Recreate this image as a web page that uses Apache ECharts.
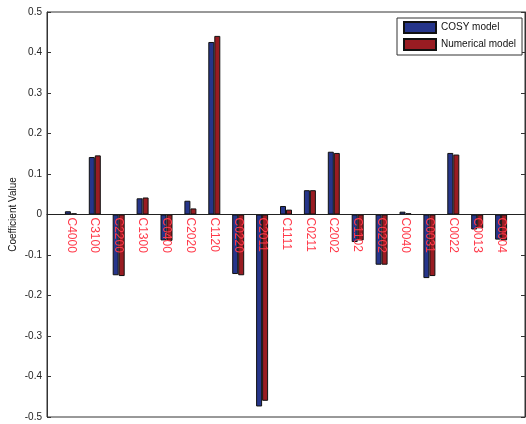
<!DOCTYPE html>
<html>
<head>
<meta charset="utf-8">
<script src="https://cdn.jsdelivr.net/npm/echarts@6/dist/echarts.min.js"></script>
<style>html,body{margin:0;padding:0;background:#fff}#c{width:526px;height:424px}</style>
</head>
<body>
<div id="c"></div>
<script>
var categories = ['C4000','C3100','C2200','C1300','C0400','C2020','C1120','C0220','C2011','C1111','C0211','C2002','C1102','C0202','C0040','C0031','C0022','C0013','C0004'];
var cosyValues = [0.008,0.142,-0.150,0.040,-0.064,0.034,0.426,-0.147,-0.474,0.021,0.060,0.155,-0.068,-0.124,0.007,-0.157,0.152,-0.037,-0.062];
var numericalValues = [0.003,0.146,-0.152,0.042,-0.065,0.015,0.441,-0.150,-0.460,0.012,0.060,0.152,-0.064,-0.124,0.003,-0.152,0.148,-0.034,-0.064];
var seriesNames = ['COSY model','Numerical model'];
var yTicks = { min: -0.5, max: 0.5, interval: 0.1 };

var FONT = 'Liberation Sans';
var W = 526, H = 424;
var G = { left: 47, right: 1, top: 12, bottom: 7 };
var gridH = H - G.top - G.bottom;
// shift the category axis up so it sits on the value-axis zero
var zeroOffset = -gridH * (0 - yTicks.min) / (yTicks.max - yTicks.min);

var axisCats = [''].concat(categories).concat(['']);
function pad(arr){ return [null].concat(arr).concat([null]); }

var chart = echarts.init(document.getElementById('c'), null, {renderer:'canvas'});
chart.setOption({
  animation: false,
  backgroundColor: '#ffffff',
  textStyle: { fontFamily: FONT },
  grid: { left: G.left, right: G.right, top: G.top, bottom: G.bottom, containLabel: false, outerBoundsMode: 'none', show: true, borderColor: '#333', borderWidth: 1, backgroundColor: 'transparent' },
  legend: {
    orient: 'vertical',
    left: 397, top: 18,
    padding: [3, 6, 4, 6],
    itemGap: 4,
    itemWidth: 32, itemHeight: 11,
    icon: 'rect',
    backgroundColor: '#fff',
    borderColor: '#333', borderWidth: 1, borderRadius: 0,
    textStyle: { fontFamily: FONT, fontSize: 10, color: '#111' },
    data: seriesNames
  },
  xAxis: {
    type: 'category',
    data: axisCats,
    boundaryGap: false,
    z: 10,
    offset: zeroOffset,
    axisLine: { onZero: false, lineStyle: { color: '#222', width: 1 } },
    axisTick: { show: false },
    splitLine: { show: false },
    axisLabel: { interval: 0, rotate: -90, margin: 3, color: '#ff3a4a', fontSize: 12, fontFamily: FONT }
  },
  yAxis: [{
    type: 'value',
    min: yTicks.min, max: yTicks.max, interval: yTicks.interval,
    name: 'Coefficient Value',
    nameLocation: 'middle',
    nameGap: 29,
    nameMoveOverlap: false,
    nameTextStyle: { fontFamily: FONT, fontSize: 10, color: '#111' },
    axisLine: { show: true, lineStyle: { color: '#333' } },
    axisTick: { show: true, inside: true, length: 4, lineStyle: { color: '#333' } },
    splitLine: { show: false },
    axisLabel: { margin: 5, color: '#222', fontSize: 10, fontFamily: FONT }
  }, {
    type: 'value',
    position: 'right',
    min: yTicks.min, max: yTicks.max, interval: yTicks.interval,
    axisLine: { show: true, lineStyle: { color: '#333' } },
    axisTick: { show: true, inside: true, length: 4, lineStyle: { color: '#333' } },
    splitLine: { show: false },
    axisLabel: { show: false }
  }],
  series: [{
    name: seriesNames[0],
    type: 'bar',
    data: pad(cosyValues),
    barWidth: 6,
    barGap: '0%',
    itemStyle: { color: '#26358a', borderColor: '#111', borderWidth: 1 }
  }, {
    name: seriesNames[1],
    type: 'bar',
    data: pad(numericalValues),
    barWidth: 6,
    barGap: '0%',
    itemStyle: { color: '#991c22', borderColor: '#111', borderWidth: 1 }
  }]
});
</script>
</body>
</html>
